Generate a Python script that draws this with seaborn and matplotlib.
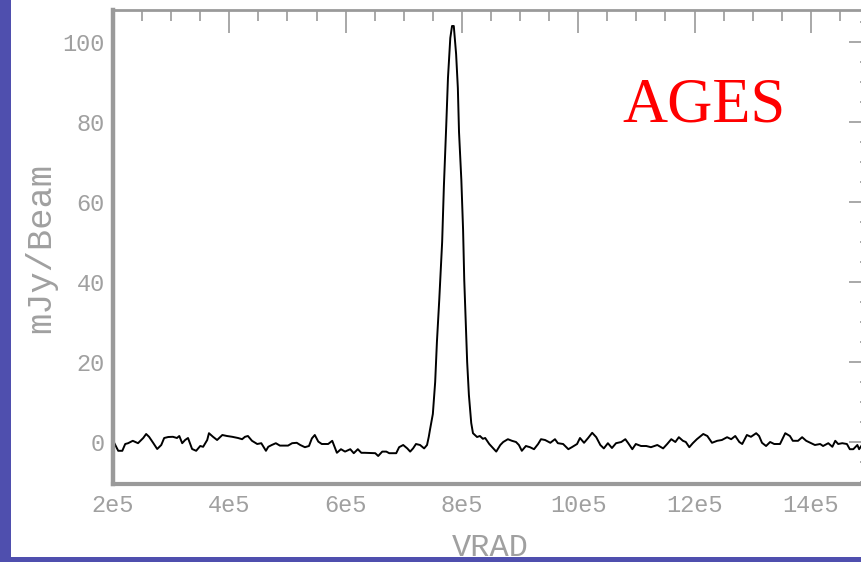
import numpy as np
import pandas as pd
import matplotlib
matplotlib.use("Agg")
import matplotlib.pyplot as plt
import seaborn as sns
from matplotlib.patches import Rectangle
from matplotlib.ticker import MultipleLocator

# Radial velocity (km/s) and flux density (mJy/Beam)
vrad_kms = [
    202, 209, 216, 221, 226, 234, 243, 252, 257, 262, 269, 276, 283, 288, 295,
    303, 310, 314, 319, 324, 329, 336, 343, 350, 355, 362, 365, 372, 379, 388,
    396, 405, 415, 422, 427, 432, 439, 448, 455, 463, 467, 473, 480, 487, 501,
    508, 516, 522, 530, 537, 542, 547, 553, 559, 570, 577, 585, 592, 599, 608,
    614, 621, 627, 633, 651, 656, 663, 670, 675, 687, 692, 699, 706, 711, 716,
    721, 728, 735, 740, 743, 745, 750, 754, 757, 761, 766, 769, 773, 776, 780,
    783, 786, 790, 793, 795, 799, 802, 804, 807, 809, 812, 816, 819, 826, 831,
    836, 840, 847, 859, 866, 871, 879, 886, 893, 898, 903, 910, 917, 924, 931,
    936, 943, 952, 960, 965, 974, 983, 989, 998, 1003, 1010, 1017, 1024, 1031,
    1038, 1044, 1051, 1058, 1065, 1074, 1081, 1086, 1093, 1099, 1108, 1117,
    1125, 1136, 1146, 1153, 1160, 1167, 1173, 1180, 1185, 1191, 1197, 1204,
    1215, 1222, 1230, 1239, 1247, 1256, 1263, 1270, 1277, 1282, 1290, 1297,
    1306, 1311, 1316, 1323, 1330, 1337, 1347, 1356, 1364, 1369, 1378, 1385,
    1392, 1399, 1407, 1416, 1421, 1430, 1437, 1442, 1447, 1454, 1462, 1467,
    1473, 1480, 1483, 1490,
]
flux_mjy = [
    -0.2, -2.2, -2.2, -0.5, -0.3, 0.3, -0.3, 1.0, 2.0, 1.3, -0.2, -1.75, -0.75,
    1.0, 1.25, 1.3, 1.0, 1.5, -0.3, 0.5, 1.0, -1.75, -2.2, -1.0, -1.2, 0.5, 2.2,
    1.3, 0.5, 1.75, 1.5, 1.3, 1.0, 0.7, 1.3, 1.5, 0.3, -0.5, -0.3, -2.2, -1.2,
    -0.75, -0.3, -0.9, -0.9, -0.3, -0.2, -0.75, -1.3, -1.0, 0.9, 1.75, 0.1,
    -0.5, -0.5, 0.3, -2.7, -1.8, -2.4, -1.8, -2.8, -1.8, -2.7, -2.7, -2.8, -3.5,
    -2.4, -2.4, -2.8, -2.8, -1.3, -0.75, -1.6, -2.4, -1.6, -0.5, -0.75, -1.6,
    -0.75, 1.3, 3.0, 7.0, 15.0, 25.0, 35.5, 50.0, 64.0, 79.0, 91.0, 101.0,
    104.0, 104.0, 97.0, 88.5, 77.5, 65.5, 53.0, 40.5, 28.5, 20.0, 11.75, 4.75,
    2.2, 1.25, 1.5, 0.8, 1.0, -0.5, -2.4, -0.75, 0.0, 0.7, 0.3, 0.0, -0.75,
    -2.2, -1.0, -1.3, -1.8, -0.5, 0.7, 0.5, -0.2, 0.7, -0.3, -0.5, -1.8, -1.3,
    -0.5, 1.0, -0.2, 1.0, 2.3, 1.2, -0.75, -1.6, -0.3, -1.5, -0.3, 0.0, 0.7,
    -0.3, -1.8, -0.5, -1.0, -1.0, -1.3, -0.75, -1.6, -0.5, 0.7, 0.0, 1.2, 0.3,
    0.0, -1.3, -0.3, 0.7, 2.0, 1.5, -0.2, 0.3, 0.5, 1.2, 0.7, 1.5, 0.0, -0.5,
    1.75, 1.3, 2.2, 1.5, -0.2, -1.0, 0.0, -0.5, -0.5, 2.2, 1.5, 0.3, 0.3, 1.2,
    0.3, -0.2, -0.75, -0.5, -1.0, -0.3, -1.2, 0.3, -0.5, -0.3, -0.5, -1.8,
    -1.8, -0.75, -1.8, -0.3,
]

xtick_values = [2e5, 4e5, 6e5, 8e5, 10e5, 12e5, 14e5]
xtick_labels = ["2e5", "4e5", "6e5", "8e5", "10e5", "12e5", "14e5"]
ytick_values = [0, 20, 40, 60, 80, 100]
ytick_labels = ["0", "20", "40", "60", "80", "100"]

df = pd.DataFrame({"VRAD": np.array(vrad_kms) * 1e3, "flux": flux_mjy})

sns.set_style("white")
plt.rcParams["font.family"] = ["Liberation Mono", "DejaVu Sans Mono"]

W, H = 861, 562
fig = plt.figure(figsize=(W / 100, H / 100), dpi=100)
fig.patch.set_facecolor("#4f4fae")
fig.patches.append(Rectangle((11 / W, 5 / H), 1, 1, transform=fig.transFigure,
                             facecolor="white", edgecolor="none", zorder=-10))

ax_left, ax_right, ax_top, ax_bottom = 113, 869, 10, 484
axw = ax_right - ax_left
axh = ax_bottom - ax_top
ax = fig.add_axes([ax_left / W, (H - ax_bottom) / H, axw / W, axh / H])
ax.set_facecolor("white")
ax.set_zorder(1)

sns.lineplot(data=df, x="VRAD", y="flux", ax=ax, color="black", lw=1.4,
             sort=False, estimator=None)

ax.set_xlim(2e5, 15e5)
ax.set_ylim(-10.5, 108)

gray = "#9a9a9a"
for side, lw in [("left", 3.2), ("bottom", 3.0), ("top", 2.0), ("right", 2.0)]:
    ax.spines[side].set_visible(True)
    ax.spines[side].set_color(gray)
    ax.spines[side].set_linewidth(lw)

ax.set_xticks(xtick_values)
ax.set_xticklabels(xtick_labels)
ax.set_yticks(ytick_values)
ax.set_yticklabels(ytick_labels)
ax.xaxis.set_minor_locator(MultipleLocator(5e4))
ax.yaxis.set_minor_locator(MultipleLocator(5))

ax.tick_params(axis="both", which="both", direction="in", colors=gray,
               top=True, right=True, width=1.2, labelsize=17, labelcolor="#a0a0a0")
ax.tick_params(axis="x", which="major", length=16.5, pad=7)
ax.tick_params(axis="x", which="minor", length=8)
ax.tick_params(axis="y", which="major", length=14.5, pad=6)
ax.tick_params(axis="y", which="minor", length=6.5)

ax.set_xlabel("VRAD", fontsize=23, color="#a0a0a0")
ax.set_ylabel("mJy/Beam", fontsize=25.5, color="#a0a0a0")
ax.xaxis.set_label_coords((490 - ax_left) / axw, (ax_bottom - 533) / axh)
ax.yaxis.set_label_coords((57 - ax_left) / axw, (ax_bottom - 248) / axh)

ax.text((622 - ax_left) / axw, (ax_bottom - 122) / axh,
        "AGES", transform=ax.transAxes, color="#ff0000", fontsize=45,
        family=["Liberation Serif", "DejaVu Serif"], ha="left", va="baseline")

fig.savefig("out.png", dpi=100, facecolor=fig.get_facecolor())
